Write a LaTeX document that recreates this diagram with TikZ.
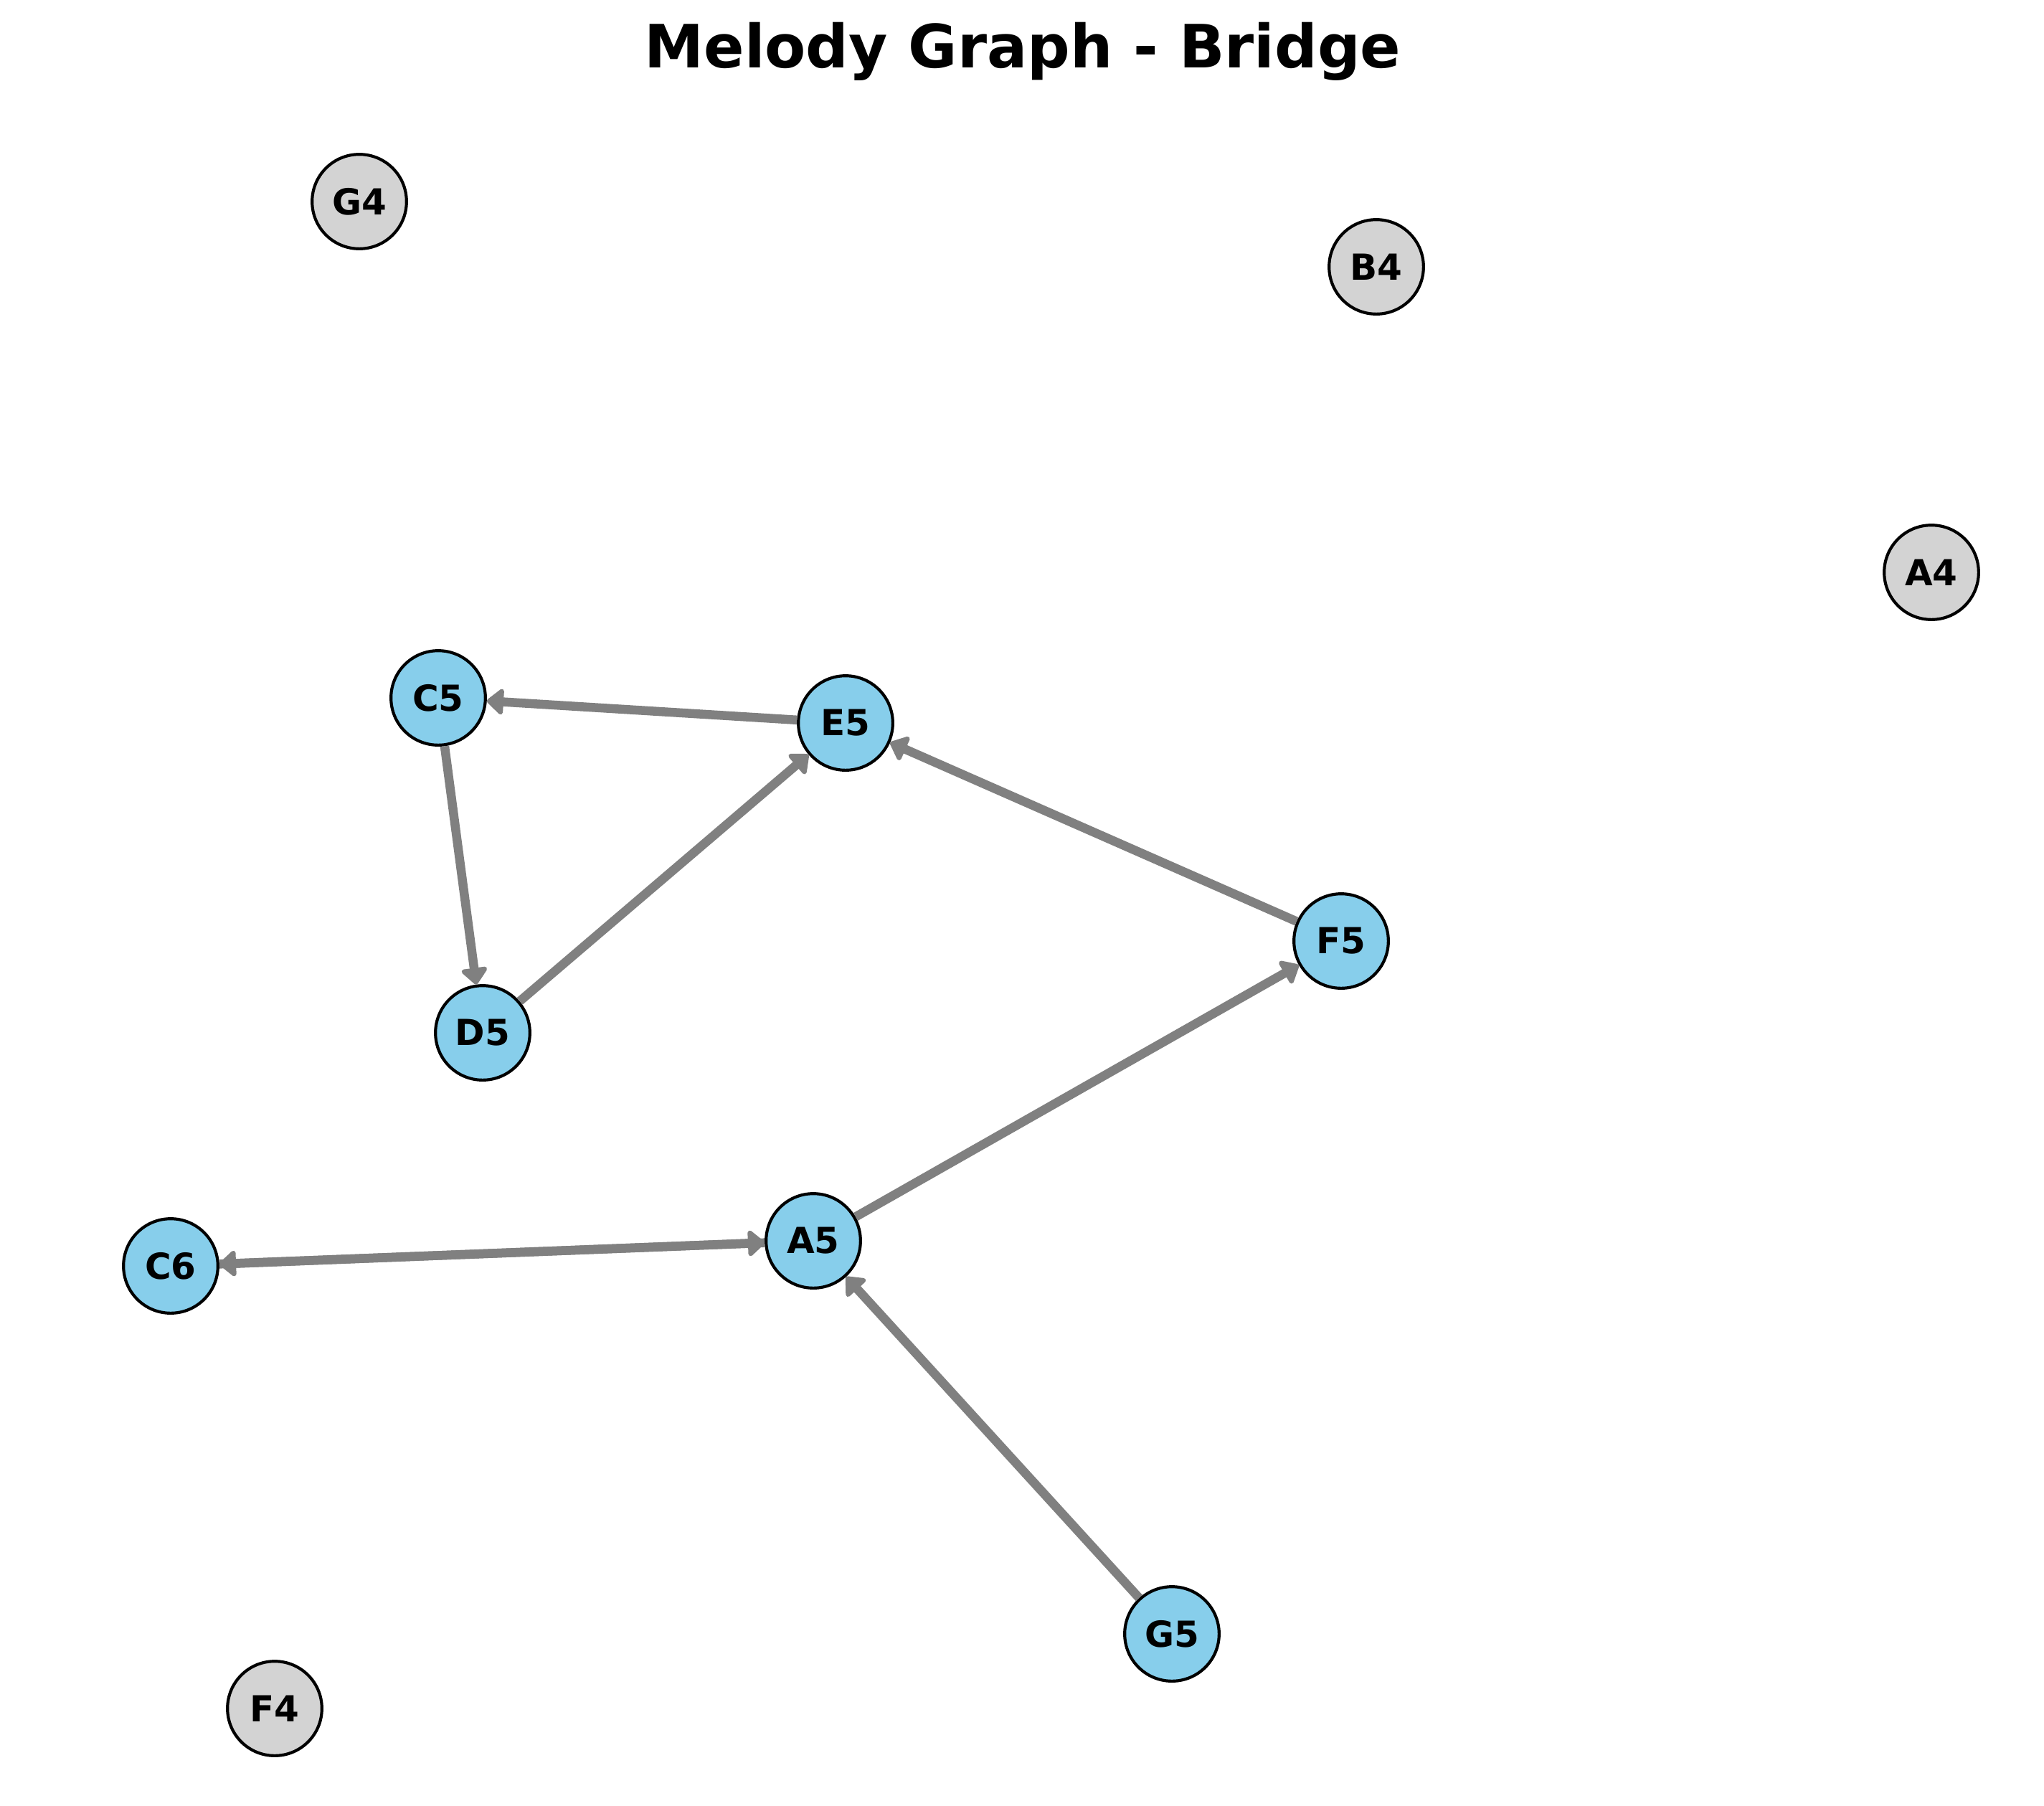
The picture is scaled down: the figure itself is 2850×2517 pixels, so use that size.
\documentclass[tikz,border=0pt]{standalone}
\usepackage{fontspec}
\setmainfont{DejaVu Sans}
\usepackage{tikz}
\usetikzlibrary{arrows.meta,shapes,calc}
\definecolor{notecol}{HTML}{87CEEB}
\definecolor{restcol}{HTML}{D3D3D3}
\definecolor{edgecol}{HTML}{808080}

\begin{document}
\begin{tikzpicture}[x=0.24pt, y=-0.24pt]
\tikzstyle{main}=[circle, draw=black, line width=1pt, minimum size=31.6pt, inner sep=0pt, font=\fontsize{12}{14}\selectfont\bfseries]
\tikzstyle{played}=[main, fill=notecol]
\tikzstyle{idle}=[main, fill=restcol]
\tikzstyle{connect}=[-{Triangle[length=6pt, width=10pt, round]}, line width=3pt, draw=edgecol]

  \useasboundingbox (0,0) rectangle (2850,2517);

  \node[font=\fontsize{20}{24}\selectfont\bfseries, anchor=base] (title) at (1426,94) {Melody Graph - Bridge};

  \node[idle] (G4)   at (501,281)   {G4};
  \node[idle] (B4)   at (1919,372)  {B4};
  \node[idle] (A4)   at (2693,798)  {A4};
  \node[idle] (F4)   at (383,2382)  {F4};

  \node[played] (C5) at (611,973)   {C5};
  \node[played] (E5) at (1179,1008) {E5};
  \node[played] (F5) at (1870,1312) {F5};
  \node[played] (D5) at (673,1440)  {D5};
  \node[played] (A5) at (1134,1730) {A5};
  \node[played] (C6) at (238,1765)  {C6};
  \node[played] (G5) at (1634,2278) {G5};

  \path (E5) edge [connect] (C5);
  \path (C5) edge [connect] (D5);
  \path (D5) edge [connect] (E5);
  \path (F5) edge [connect] (E5);
  \path (A5) edge [connect] (F5);
  \path (A5) edge [connect] (C6);
  \path (C6) edge [connect] (A5);
  \path (G5) edge [connect] (A5);

\end{tikzpicture}
\end{document}
